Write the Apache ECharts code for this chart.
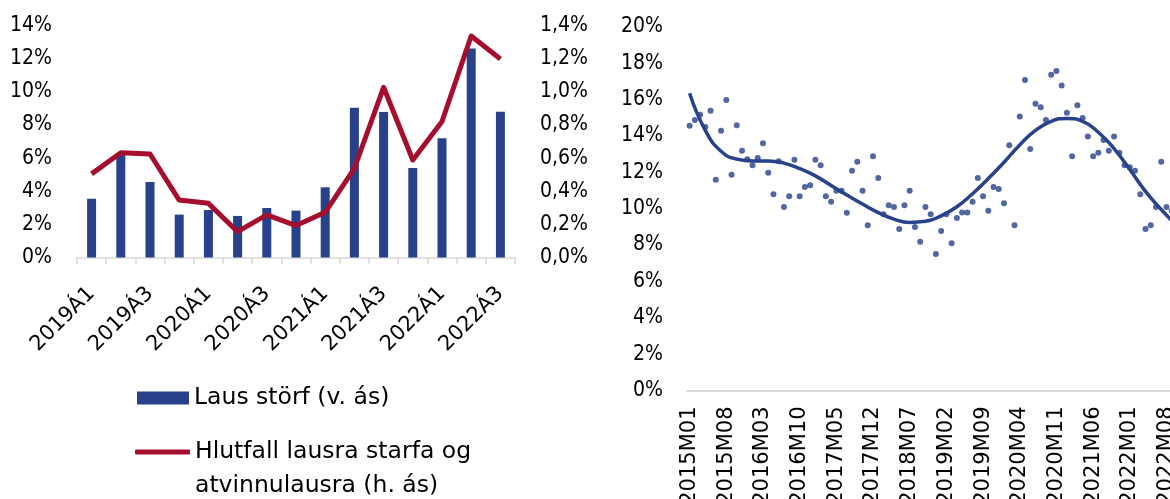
<!DOCTYPE html>
<html>
<head>
<meta charset="utf-8">
<script src="https://cdn.jsdelivr.net/npm/echarts@6/dist/echarts.min.js"></script>
<style>
html, body { margin: 0; padding: 0; background: #fff; overflow: hidden; }
#main { width: 1170px; height: 499px; }
</style>
</head>
<body>
<div id="main"></div>
<script>
// vinstri mynd: laus störf (v. ás) og hlutfall lausra starfa (h. ás)
const quarters = ['2019Á1','2019Á2','2019Á3','2019Á4','2020Á1','2020Á2','2020Á3','2020Á4',
                  '2021Á1','2021Á2','2021Á3','2021Á4','2022Á1','2022Á2','2022Á3'];
const lausStorf = [3.55, 6.25, 4.56, 2.59, 2.87, 2.51, 2.99, 2.83, 4.24, 9.05, 8.79, 5.41, 7.2, 12.62, 8.81];
const hlutfall  = [0.505, 0.633, 0.625, 0.347, 0.327, 0.156, 0.257, 0.193, 0.273, 0.539, 1.028, 0.589, 0.821, 1.338, 1.199];

// hægri mynd: mánaðargögn og leitnilína
const months = [];
for (let y = 2015; y <= 2022; y++) {
    for (let m = 1; m <= 12; m++) {
        months.push(y + 'M' + (m < 10 ? '0' + m : m));
    }
}
const monthly = [
    14.56, 14.87, 15.16, 14.49, 15.38, 11.59, 14.28, 15.97, 11.86, 14.58, 13.18, 12.71,
    12.38, 12.78, 13.59, 11.97, 10.79, 12.6, 10.09, 10.68, 12.69, 10.68, 11.19, 11.28,
    12.69, 12.38, 10.68, 10.38, 10.98, 10.98, 9.77, 12.08, 12.58, 10.98, 9.08, 12.88,
    11.68, 9.69, 10.18, 10.09, 8.88, 10.18, 10.98, 8.99, 8.18, 10.09, 9.69, 7.5,
    8.77, 9.69, 8.09, 9.48, 9.79, 9.79, 10.38, 11.68, 10.68, 9.88, 11.19, 11.08,
    10.29, 13.48, 9.08, 15.07, 17.07, 13.28, 15.77, 15.57, 14.87, 17.36, 17.56, 16.77,
    15.27, 12.88, 15.68, 14.98, 13.97, 12.88, 13.07, 13.77, 13.18, 13.97, 13.07, 12.38,
    12.27, 12.08, 10.79, 8.88, 9.08, 10.09, 12.58, 10.09, 9.88
];
const monthCats = months.slice(0, monthly.length);
const trendMonths = ['2015M01','2015M04','2015M07','2015M10','2016M01','2016M04','2016M07','2016M10',
                     '2017M01','2017M04','2017M07','2017M10','2018M01','2018M04','2018M07','2018M10',
                     '2019M01','2019M04','2019M07','2019M10','2020M01','2020M04','2020M07','2020M10',
                     '2021M01','2021M04','2021M07','2021M10','2022M01','2022M04','2022M07','2022M09'];
const trendVals = [16.34, 14.3, 13.15, 12.72, 12.62, 12.62, 12.5, 12.2,
                   11.8, 11.27, 10.75, 10.25, 9.78, 9.42, 9.24, 9.3,
                   9.6, 10.1, 10.82, 11.65, 12.55, 13.5, 14.3, 14.8,
                   14.96, 14.8, 14.2, 13.3, 12.15, 10.95, 9.95, 9.35];

const navy = '#27418A';
const red = '#A50F2D';
const condensed = '"DejaVu Sans Condensed", "DejaVu Sans", sans-serif';
const wide = '"DejaVu Sans", sans-serif';
const yLbl = { fontSize: 21, fontFamily: condensed, color: '#000' };
const xLbl = { fontSize: 21, fontFamily: wide, color: '#000' };
const legLbl = { fontSize: 23.5, fontFamily: wide, color: '#000' };

const myChart = echarts.init(document.getElementById('main'));
myChart.setOption({
    animation: false,
    grid: [
        // hægri myndin nær út fyrir gluggann og er skorin af eins og fyrirmyndin
        { left: 77, top: 25.7, width: 438, height: 231.8, outerBoundsMode: 'none', containLabel: false },
        { left: 687, top: 26.7, width: 5.24 * monthCats.length, height: 363.8, outerBoundsMode: 'none', containLabel: false }
    ],
    legend: [
        {
            left: 137, top: 385, padding: 0,
            itemWidth: 52, itemHeight: 13, icon: 'rect',
            data: ['Laus störf (v. ás)'],
            textStyle: Object.assign({ lineHeight: 26 }, legLbl)
        },
        {
            left: 135, top: 401, padding: 0,
            itemWidth: 55, itemHeight: 5, icon: 'roundRect',
            data: ['Hlutfall lausra starfa og\natvinnulausra (h. ás)'],
            // tóm fyrsta lína svo táknið standi við fyrstu línu textans
            formatter: name => '\n' + name,
            textStyle: Object.assign({ lineHeight: 34 }, legLbl)
        }
    ],
    xAxis: [
        {
            type: 'category', gridIndex: 0, data: quarters,
            axisLine: { lineStyle: { color: '#D9D9D9', width: 1.5 } },
            axisTick: { show: true, interval: 0, length: 7, lineStyle: { color: '#D9D9D9', width: 1.5 } },
            axisLabel: Object.assign({ interval: 1, rotate: 45, margin: 33 }, xLbl)
        },
        {
            type: 'category', gridIndex: 1, data: monthCats,
            axisLine: { lineStyle: { color: '#D9D9D9', width: 2 } },
            axisTick: { show: false },
            axisLabel: Object.assign({ interval: 6, rotate: 90, margin: 16 }, xLbl)
        }
    ],
    yAxis: [
        {
            type: 'value', gridIndex: 0, min: 0, max: 14, interval: 2,
            splitLine: { show: false },
            axisLabel: Object.assign({ formatter: '{value}%', margin: 25 }, yLbl)
        },
        {
            type: 'value', gridIndex: 0, position: 'right', min: 0, max: 1.4, interval: 0.2,
            splitLine: { show: false },
            axisLabel: Object.assign({
                formatter: v => v.toFixed(1).replace('.', ',') + '%', margin: 25
            }, yLbl)
        },
        {
            type: 'value', gridIndex: 1, min: 0, max: 20, interval: 2,
            splitLine: { show: false },
            axisLabel: Object.assign({ formatter: '{value}%', margin: 24 }, yLbl)
        }
    ],
    series: [
        {
            name: 'Laus störf (v. ás)', type: 'bar',
            xAxisIndex: 0, yAxisIndex: 0,
            barWidth: 9,
            itemStyle: { color: navy },
            data: lausStorf
        },
        {
            name: 'Hlutfall lausra starfa og\natvinnulausra (h. ás)', type: 'line',
            xAxisIndex: 0, yAxisIndex: 1,
            symbol: 'none',
            itemStyle: { color: red },
            lineStyle: { color: red, width: 5, join: 'round' },
            data: hlutfall
        },
        {
            name: 'mánuðir', type: 'scatter',
            xAxisIndex: 1, yAxisIndex: 2,
            symbolSize: 6,
            itemStyle: { color: navy },
            data: monthly
        },
        {
            name: 'leitni', type: 'line',
            xAxisIndex: 1, yAxisIndex: 2,
            symbol: 'none', smooth: true,
            lineStyle: { color: navy, width: 3.5 },
            data: trendMonths.map((m, i) => [m, trendVals[i]])
        }
    ]
});
</script>
</body>
</html>
